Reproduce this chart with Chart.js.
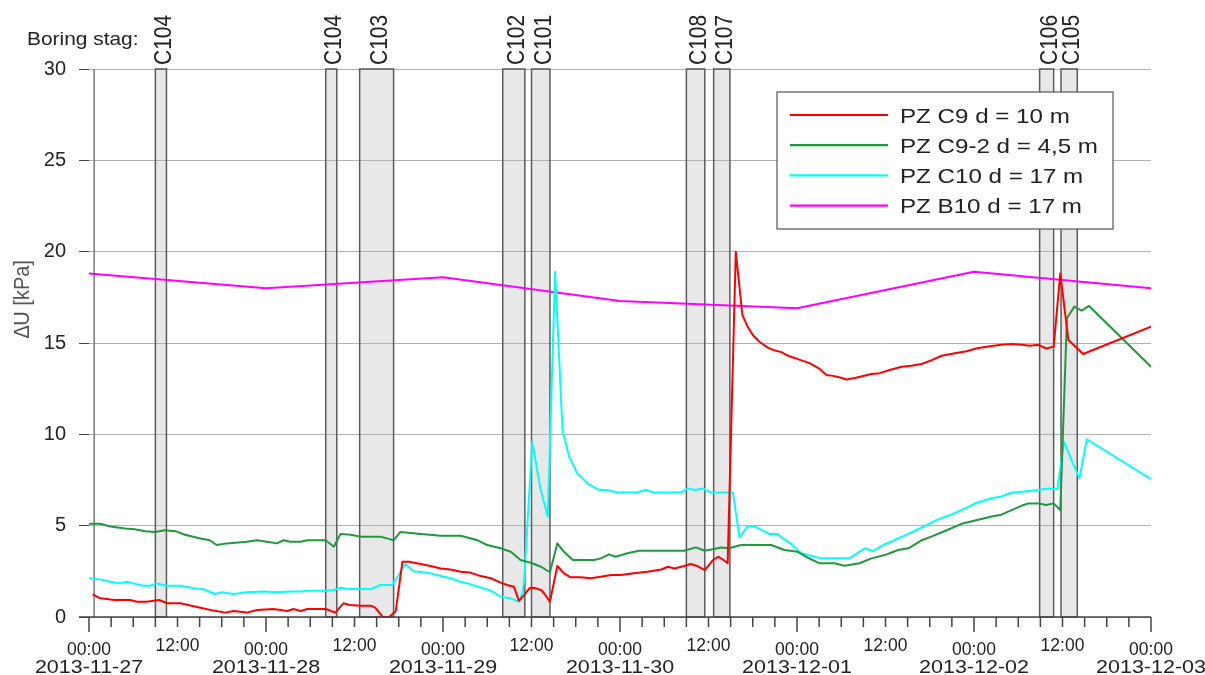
<!DOCTYPE html>
<html>
<head>
<meta charset="utf-8">
<script src="https://cdn.jsdelivr.net/npm/chart.js@4.4.1/dist/chart.umd.min.js"></script>
<style>
  html, body { margin: 0; padding: 0; background: #ffffff; }
  #wrap { width: 1205px; height: 675px; position: relative; }
</style>
</head>
<body>
<div id="wrap"><canvas id="chart" width="1205" height="675"></canvas></div>
<script>
// Time is given in hours after 2013-11-27 00:00.
const dayLabels = ['2013-11-27', '2013-11-28', '2013-11-29', '2013-11-30', '2013-12-01', '2013-12-02', '2013-12-03'];
const hourLabels = ['00:00', '12:00'];
const xStartHour = 0;
const xEndHour = 144;
const xTickStep = 3;
const yMin = 0;
const yMax = 30;
const yStep = 5;
const axisLineHour = 0.7;

// Boreholes drilled during the period (start / end hour)
const boreLabels = ['C104', 'C104', 'C103', 'C102', 'C101', 'C108', 'C107', 'C106', 'C105'];
const boreStart  = [9.0, 32.1, 36.7, 56.1, 60.0, 81.0, 84.7, 128.9, 131.8];
const boreEnd    = [10.5, 33.6, 41.3, 59.1, 62.5, 83.5, 86.9, 130.8, 134.0];

const seriesNames = ['PZ C9 d = 10 m', 'PZ C9-2 d = 4,5 m', 'PZ C10 d = 17 m', 'PZ B10 d = 17 m'];

// PZ C9, d = 10 m
const c9Hours = [
  0.5, 1.5, 3.5, 5.6, 6.5, 7.8, 9.5, 10.6, 12.4, 15.1,
  16.9, 18.5, 19.6, 21.4, 22.8, 25.0, 26.9, 27.7, 28.7, 29.6,
  32.1, 33.4, 34.5, 35.4, 36.8, 38.2, 38.8, 39.8, 40.7, 41.6,
  42.5, 43.4, 45.0, 46.3, 47.7, 49.0, 50.4, 51.7, 53.1, 54.5,
  55.8, 56.7, 57.6, 58.3, 59.0, 59.7, 60.3, 61.3, 61.7, 62.5,
  63.5, 64.4, 65.3, 66.7, 68.0, 69.4, 70.8, 72.1, 73.9, 75.7,
  77.6, 78.5, 79.4, 80.7, 81.6, 82.5, 83.5, 84.6, 85.3, 85.9,
  86.6, 87.7, 88.6, 89.3, 90.0, 90.9, 92.0, 92.9, 93.9, 94.8,
  96.6, 97.7, 99.0, 100.0, 100.9, 102.0, 102.7, 104.0, 106.1, 107.2,
  108.8, 110.2, 111.5, 112.9, 114.2, 115.6, 117.6, 119.0, 120.3, 121.7,
  123.7, 125.1, 126.5, 127.6, 128.7, 129.8, 130.8, 131.7, 132.8, 134.8,
  144.0
];
const c9Values = [
  1.24, 1.02, 0.93, 0.93, 0.84, 0.84, 0.93, 0.75, 0.75, 0.51,
  0.35, 0.24, 0.33, 0.24, 0.38, 0.44, 0.33, 0.44, 0.33, 0.44,
  0.44, 0.24, 0.75, 0.66, 0.62, 0.62, 0.51, 0.02, 0.0, 0.33,
  3.03, 3.03, 2.9, 2.79, 2.66, 2.6, 2.48, 2.43, 2.24, 2.12,
  1.88, 1.75, 1.66, 0.88, 1.2, 1.57, 1.6, 1.48, 1.3, 0.84,
  2.79, 2.39, 2.17, 2.17, 2.12, 2.2, 2.3, 2.3, 2.39, 2.48,
  2.6, 2.75, 2.66, 2.79, 2.9, 2.79, 2.57, 3.12, 3.3, 3.16,
  2.94, 20.0, 16.53, 15.9, 15.44, 15.07, 14.76, 14.6, 14.5, 14.3,
  14.05, 13.9, 13.6, 13.25, 13.2, 13.1, 13.0, 13.1, 13.3, 13.35,
  13.55, 13.7, 13.75, 13.85, 14.05, 14.3, 14.45, 14.55, 14.7, 14.8,
  14.9, 14.95, 14.9, 14.85, 14.9, 14.7, 14.8, 18.8, 15.16, 14.4,
  15.9
];

// PZ C9-2, d = 4,5 m
const c92Hours = [
  0, 1.5, 2.9, 4.9, 6.2, 7.6, 9.0, 10.3, 11.7, 13.0,
  15.1, 16.4, 17.3, 18.7, 21.4, 22.8, 24.1, 25.5, 26.4, 27.3,
  28.7, 29.6, 32.1, 33.2, 34.1, 35.5, 36.8, 39.5, 40.9, 41.3,
  42.2, 45.0, 47.7, 50.4, 52.7, 54.0, 55.8, 57.2, 58.5, 59.9,
  61.3, 62.5, 63.5, 64.4, 65.6, 66.7, 68.5, 69.4, 70.5, 71.4,
  73.0, 74.6, 76.6, 80.7, 82.3, 83.5, 85.7, 86.8, 88.4, 92.5,
  94.3, 96.1, 97.7, 99.1, 101.1, 102.4, 104.5, 106.1, 107.9, 109.7,
  111.1, 112.9, 114.2, 116.3, 118.3, 120.3, 122.4, 123.7, 125.1, 126.5,
  127.4, 128.7, 129.8, 130.8, 131.7, 132.6, 133.6, 134.6, 135.6, 144.0
];
const c92Values = [
  5.1, 5.1, 4.95, 4.85, 4.8, 4.7, 4.65, 4.75, 4.7, 4.5,
  4.3, 4.2, 3.94, 4.03, 4.12, 4.2, 4.12, 4.03, 4.2, 4.12,
  4.12, 4.2, 4.2, 3.85, 4.55, 4.5, 4.4, 4.4, 4.25, 4.2,
  4.65, 4.55, 4.45, 4.45, 4.2, 3.94, 3.76, 3.57, 3.12, 2.97,
  2.75, 2.45, 4.03, 3.57, 3.12, 3.12, 3.12, 3.21, 3.43, 3.3,
  3.49, 3.63, 3.63, 3.63, 3.81, 3.63, 3.81, 3.76, 3.94, 3.94,
  3.67, 3.57, 3.2, 2.94, 2.94, 2.81, 2.94, 3.21, 3.39, 3.67,
  3.76, 4.2, 4.4, 4.75, 5.1, 5.3, 5.5, 5.6, 5.85, 6.1,
  6.22, 6.22, 6.13, 6.22, 5.86, 16.35, 16.99, 16.77, 17.03, 13.7
];

// PZ C10, d = 17 m
const c10Hours = [
  0, 1.5, 2.9, 4.2, 5.1, 6.0, 7.4, 8.3, 9.2, 10.6,
  12.4, 14.2, 15.5, 17.1, 18.0, 19.6, 21.4, 23.7, 25.5, 27.3,
  28.7, 29.6, 32.1, 33.2, 34.1, 35.2, 38.2, 39.5, 41.1, 42.0,
  42.9, 44.0, 46.3, 47.7, 49.0, 50.4, 51.7, 53.1, 54.5, 55.8,
  57.2, 58.2, 58.8, 59.0, 60.1, 61.2, 62.2, 63.2, 64.2, 65.1,
  66.2, 67.6, 69.2, 70.3, 71.7, 74.2, 75.5, 76.6, 80.3, 81.2,
  82.1, 83.2, 84.3, 87.3, 88.2, 89.3, 90.2, 92.3, 93.4, 93.9,
  95.2, 96.6, 97.9, 99.3, 103.1, 105.2, 106.3, 107.7, 109.2, 110.8,
  112.9, 114.9, 116.9, 118.3, 120.3, 122.4, 123.7, 125.1, 126.5, 128.7,
  130.1, 131.3, 132.2, 133.2, 134.3, 135.3, 144.0
];
const c10Values = [
  2.12, 2.06, 1.93, 1.84, 1.93, 1.84, 1.71, 1.71, 1.84, 1.71,
  1.71, 1.57, 1.52, 1.26, 1.35, 1.26, 1.35, 1.39, 1.35, 1.39,
  1.39, 1.44, 1.44, 1.48, 1.6, 1.53, 1.53, 1.75, 1.75, 2.3,
  2.9, 2.5, 2.39, 2.24, 2.12, 1.93, 1.8, 1.62, 1.44, 1.11,
  1.02, 0.84, 1.3, 2.0, 9.6, 7.04, 5.49, 18.9, 10.24, 8.78,
  7.87, 7.32, 6.95, 6.95, 6.82, 6.82, 6.95, 6.82, 6.82, 7.04,
  6.95, 7.04, 6.82, 6.82, 4.36, 4.98, 4.98, 4.54, 4.54, 4.36,
  4.0, 3.49, 3.35, 3.21, 3.21, 3.76, 3.61, 3.94, 4.2, 4.5,
  4.9, 5.3, 5.6, 5.85, 6.24, 6.5, 6.6, 6.8, 6.86, 6.95,
  7.04, 6.99, 9.6, 8.6, 7.6, 9.73, 7.54
];

// PZ B10, d = 17 m (daily readings)
const b10Hours  = [0, 24, 48, 72, 96, 120, 144];
const b10Values = [18.8, 18.0, 18.6, 17.3, 16.9, 18.9, 18.0];

const seriesColors = ['#ff0000', '#1e9a3c', '#00ffff', '#ff00ff'];

const FONT = '"Liberation Sans", Arial, Helvetica, sans-serif';

function toPoints(hours, values) {
  return hours.map((h, i) => ({ x: h, y: values[i] }));
}

function drawText(ctx, s, x, y, o) {
  ctx.save();
  ctx.translate(x, y);
  ctx.scale(o.sx || 1, 1);
  if (o.rot) ctx.rotate(o.rot);
  ctx.font = (o.size || 19) + 'px ' + FONT;
  ctx.fillStyle = o.color || '#222222';
  ctx.textAlign = o.align || 'left';
  ctx.textBaseline = o.base || 'alphabetic';
  ctx.fillText(s, 0, 0);
  ctx.restore();
}

// Shaded drilling periods, labels, custom time axis and legend
const decorPlugin = {
  id: 'decor',
  beforeDraw(chart) {
    const { ctx, chartArea } = chart;
    const xs = chart.scales.x;
    ctx.save();
    ctx.fillStyle = '#e8e8e8';
    boreStart.forEach((s, i) => {
      const x0 = xs.getPixelForValue(s);
      const x1 = xs.getPixelForValue(boreEnd[i]);
      ctx.fillRect(x0, chartArea.top, x1 - x0, chartArea.bottom - chartArea.top);
    });
    ctx.restore();
  },
  beforeDatasetsDraw(chart) {
    const { ctx, chartArea } = chart;
    const xs = chart.scales.x;
    ctx.save();
    ctx.strokeStyle = '#5c5c5c';
    ctx.lineWidth = 1.5;
    boreStart.forEach((s, i) => {
      const x0 = xs.getPixelForValue(s);
      const x1 = xs.getPixelForValue(boreEnd[i]);
      ctx.strokeRect(x0, chartArea.top, x1 - x0, chartArea.bottom - chartArea.top);
    });
    // vertical axis line
    const ax = xs.getPixelForValue(axisLineHour);
    ctx.strokeStyle = '#7a7a7a';
    ctx.beginPath();
    ctx.moveTo(ax, chartArea.top);
    ctx.lineTo(ax, chartArea.bottom);
    ctx.stroke();
    ctx.restore();
  },
  afterDraw(chart) {
    const { ctx, chartArea } = chart;
    const xs = chart.scales.x;
    const bottom = chartArea.bottom;

    // horizontal time axis
    ctx.save();
    ctx.strokeStyle = '#444444';
    ctx.lineWidth = 1.5;
    ctx.beginPath();
    ctx.moveTo(chartArea.left - 10, bottom);
    ctx.lineTo(xs.getPixelForValue(xEndHour), bottom);
    ctx.stroke();
    xs.ticks.forEach(t => {
      const h = t.value;
      const px = xs.getPixelForValue(h);
      const major = h % 24 === 0;
      ctx.beginPath();
      ctx.moveTo(px, bottom);
      ctx.lineTo(px, bottom + (major ? 15 : 10));
      ctx.stroke();
      if (major) {
        drawText(ctx, hourLabels[0], px, bottom + 38, { size: 17.5, align: 'center' });
        drawText(ctx, dayLabels[h / 24], px, bottom + 56, { size: 19, align: 'center', sx: 1.13 });
      } else if (h % 12 === 0) {
        drawText(ctx, hourLabels[1], px, bottom + 34, { size: 17.5, align: 'center' });
      }
    });
    ctx.restore();

    // borehole names above the shaded periods
    boreLabels.forEach((name, i) => {
      const cx = (xs.getPixelForValue(boreStart[i]) + xs.getPixelForValue(boreEnd[i])) / 2;
      drawText(ctx, name, cx + 3.5, chartArea.top - 4, { size: 21, rot: -Math.PI / 2, base: 'middle', sx: 1.15 });
    });
    drawText(ctx, 'Boring stag:', 27, 45, { size: 19, sx: 1.1 });

    // y-axis title
    drawText(ctx, '\u2206U [kPa]', 23, chartArea.top + 230,
      { size: 20, rot: -Math.PI / 2, align: 'center', base: 'middle', sx: 1.1, color: '#555555' });

    // legend
    const lg = { left: 777, top: 92, right: 1113, bottom: 229 };
    ctx.save();
    ctx.fillStyle = '#ffffff';
    ctx.fillRect(lg.left, lg.top, lg.right - lg.left, lg.bottom - lg.top);
    ctx.strokeStyle = '#555555';
    ctx.lineWidth = 1.2;
    ctx.strokeRect(lg.left, lg.top, lg.right - lg.left, lg.bottom - lg.top);
    chart.data.datasets.forEach((ds, i) => {
      const y = 115 + i * 30.2;
      ctx.strokeStyle = ds.borderColor;
      ctx.lineWidth = 2.2;
      ctx.beginPath();
      ctx.moveTo(790, y);
      ctx.lineTo(888, y);
      ctx.stroke();
      drawText(ctx, ds.label, 900, y + 7.5, { size: 21, sx: 1.15 });
    });
    ctx.restore();
  }
};

const datasets = [
  toPoints(c9Hours, c9Values),
  toPoints(c92Hours, c92Values),
  toPoints(c10Hours, c10Values),
  toPoints(b10Hours, b10Values)
].map((pts, i) => ({
  label: seriesNames[i],
  data: pts,
  borderColor: seriesColors[i],
  backgroundColor: seriesColors[i],
  borderWidth: 2,
  pointRadius: 0,
  tension: 0,
  borderJoinStyle: 'round',
  fill: false
}));

new Chart(document.getElementById('chart').getContext('2d'), {
  type: 'line',
  data: { datasets },
  plugins: [decorPlugin],
  options: {
    responsive: false,
    animation: false,
    devicePixelRatio: 1,
    layout: { padding: { left: 45, right: 54, top: 69, bottom: 58 } },
    plugins: { legend: { display: false }, tooltip: { enabled: false } },
    scales: {
      x: {
        type: 'linear',
        min: xStartHour,
        max: xEndHour,
        ticks: { stepSize: xTickStep, display: false },
        grid: { display: false },
        border: { display: false },
        afterFit(s) { s.height = 0; s.paddingLeft = 0; s.paddingRight = 0; }
      },
      y: {
        type: 'linear',
        min: yMin,
        max: yMax,
        ticks: {
          stepSize: yStep,
          padding: 13,
          color: '#222222',
          font: { family: FONT, size: 20 }
        },
        grid: { color: '#b2b2b2', lineWidth: 1, tickColor: '#444444', tickLength: 10 },
        border: { display: false },
        afterFit(s) { s.width = 44; s.paddingTop = 0; s.paddingBottom = 0; }
      }
    }
  }
});
</script>
</body>
</html>
